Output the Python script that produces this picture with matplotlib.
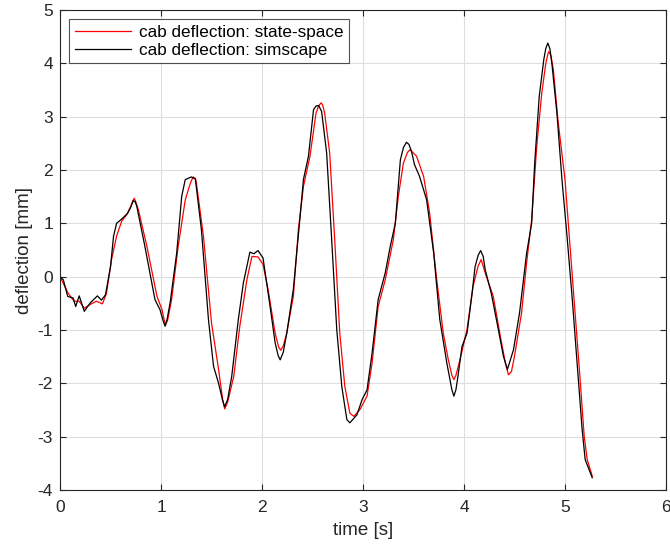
import numpy as np
import matplotlib.pyplot as plt

plt.rcParams['font.family'] = ['Liberation Sans', 'DejaVu Sans']
plt.rcParams['axes.unicode_minus'] = False

# state-space model (red)
t_ss = [0.0, 0.08, 0.14, 0.19, 0.24, 0.30, 0.36, 0.42, 0.46, 0.51, 0.56, 0.61, 0.66, 0.70,
        0.72, 0.735, 0.75, 0.775, 0.86, 0.96, 1.01, 1.03, 1.045, 1.065, 1.105, 1.17, 1.24, 1.28,
        1.30, 1.32, 1.34, 1.35, 1.42, 1.50, 1.57, 1.61, 1.63, 1.66, 1.72, 1.78, 1.85, 1.90,
        1.96, 2.01, 2.06, 2.13, 2.165, 2.185, 2.21, 2.245, 2.31, 2.36, 2.41, 2.475, 2.535,
        2.56, 2.585, 2.60, 2.62, 2.67, 2.72, 2.77, 2.82, 2.87, 2.91, 2.97, 3.04, 3.09, 3.15,
        3.22, 3.30, 3.35, 3.40, 3.44, 3.465, 3.53, 3.60, 3.66, 3.73, 3.795, 3.845, 3.88, 3.90,
        3.92, 3.96, 4.03, 4.09, 4.14, 4.17, 4.22, 4.29, 4.36, 4.41, 4.44, 4.47, 4.50, 4.57,
        4.62, 4.67, 4.72, 4.77, 4.81, 4.83, 4.84, 4.86, 4.885, 4.93, 5.0, 5.05, 5.10, 5.15,
        5.19, 5.22, 5.27]
y_ss = [0.0, -0.31, -0.46, -0.46, -0.59, -0.52, -0.46, -0.51, -0.31, 0.32, 0.76, 1.04, 1.16, 1.32,
        1.42, 1.47, 1.40, 1.26, 0.57, -0.37, -0.62, -0.80, -0.90, -0.82, -0.43, 0.57, 1.44, 1.69,
        1.80, 1.87, 1.84, 1.76, 0.76, -0.87, -1.74, -2.30, -2.48, -2.35, -1.87, -0.93, -0.06, 0.38,
        0.37, 0.23, -0.24, -1.06, -1.32, -1.38, -1.30, -1.06, -0.37, 0.88, 1.69, 2.26, 3.07,
        3.20, 3.26, 3.22, 3.07, 2.32, 0.69, -1.06, -2.06, -2.56, -2.62, -2.49, -2.24, -1.62, -0.56,
        -0.06, 0.69, 1.51, 2.13, 2.33, 2.38, 2.26, 1.88, 1.19, -0.06, -1.06, -1.56, -1.85, -1.93,
        -1.85, -1.56, -0.99, -0.18, 0.20, 0.32, 0.01, -0.37, -1.12, -1.62, -1.84, -1.78, -1.49, -0.68,
        0.26, 1.07, 2.44, 3.44, 4.00, 4.17, 4.22, 4.15, 3.88, 2.94, 1.82, 0.57, -0.68, -1.93,
        -2.99, -3.43, -3.74]

# simscape model (black)
t_sim = [0.0, 0.033, 0.076, 0.13, 0.155, 0.19, 0.24, 0.30, 0.37, 0.41, 0.45, 0.50, 0.53, 0.56,
         0.61, 0.67, 0.70, 0.726, 0.745, 0.76, 0.84, 0.94, 0.99, 1.02, 1.04, 1.06, 1.09, 1.155,
         1.205, 1.24, 1.30, 1.34, 1.40, 1.47, 1.52, 1.57, 1.61, 1.63, 1.66, 1.70, 1.765, 1.815,
         1.88, 1.92, 1.96, 2.01, 2.08, 2.13, 2.16, 2.18, 2.21, 2.245, 2.31, 2.38, 2.41, 2.46,
         2.51, 2.535, 2.56, 2.59, 2.64, 2.69, 2.74, 2.79, 2.84, 2.87, 2.94, 2.99, 3.04, 3.09,
         3.15, 3.22, 3.27, 3.32, 3.37, 3.40, 3.43, 3.455, 3.48, 3.51, 3.56, 3.63, 3.70, 3.76,
         3.83, 3.88, 3.90, 3.92, 3.94, 3.98, 4.03, 4.08, 4.11, 4.14, 4.165, 4.19, 4.21, 4.27,
         4.34, 4.39, 4.43, 4.49, 4.55, 4.62, 4.67, 4.70, 4.745, 4.79, 4.81, 4.83, 4.85, 4.87,
         4.92, 4.97, 5.02, 5.07, 5.12, 5.17, 5.20, 5.27]
y_sim = [0.0, -0.06, -0.37, -0.40, -0.56, -0.36, -0.65, -0.49, -0.36, -0.44, -0.34, 0.19, 0.76, 1.0,
         1.08, 1.19, 1.30, 1.43, 1.40, 1.32, 0.57, -0.43, -0.62, -0.82, -0.93, -0.80, -0.49, 0.44,
         1.51, 1.82, 1.87, 1.83, 0.88, -0.81, -1.68, -2.0, -2.32, -2.44, -2.30, -1.87, -0.81, -0.12,
         0.46, 0.43, 0.49, 0.35, -0.56, -1.24, -1.48, -1.56, -1.42, -1.06, -0.24, 1.19, 1.82, 2.26,
         3.13, 3.20, 3.21, 3.10, 2.32, 0.69, -0.99, -2.06, -2.68, -2.74, -2.59, -2.31, -2.12, -1.43,
         -0.43, 0.07, 0.57, 1.0, 2.19, 2.42, 2.52, 2.48, 2.35, 2.10, 1.88, 1.44, 0.44, -0.80,
         -1.62, -2.12, -2.24, -2.12, -1.87, -1.31, -1.06, -0.31, 0.19, 0.40, 0.49, 0.38, 0.13, -0.31,
         -0.99, -1.49, -1.74, -1.37, -0.68, 0.44, 1.0, 2.13, 3.38, 4.07, 4.28, 4.38, 4.28, 4.0,
         3.07, 1.82, 0.76, -0.37, -1.62, -2.87, -3.43, -3.77]

fig = plt.figure(figsize=(6.7, 5.47), dpi=100)
ax = fig.add_axes([0.0896, 0.1042, 0.9044, 0.8775])

ax.plot(t_ss, y_ss, color='#ff0000', lw=0.9, label='cab deflection: state-space')
ax.plot(t_sim, y_sim, color='black', lw=0.9, label='cab deflection: simscape')

ax.set_xlim(0, 6)
ax.set_ylim(-4, 5)
ax.set_xticks(np.arange(0, 7, 1))
ax.set_yticks(np.arange(-4, 6, 1))
ax.grid(True, color='#dedede', lw=0.8)
ax.set_axisbelow(True)
ax.tick_params(direction='in', top=True, right=True, labelsize=12.5, colors='#262626', length=4)
ax.tick_params(axis='x', pad=7)
ax.tick_params(axis='y', pad=5)
for s in ax.spines.values():
    s.set_color('#262626')
    s.set_linewidth(0.8)

ax.set_xlabel('time [s]', fontsize=13.5, color='#262626', labelpad=5)
ax.set_ylabel('deflection [mm]', fontsize=13.5, color='#262626', labelpad=3)

leg = ax.legend(loc='upper left', fontsize=12.3, frameon=True, fancybox=False,
                edgecolor='#262626', borderaxespad=0.55, handlelength=3.3,
                borderpad=0.3, labelspacing=0.2, handletextpad=0.5)
leg.get_frame().set_linewidth(0.8)

fig.savefig('out.png', dpi=100)
